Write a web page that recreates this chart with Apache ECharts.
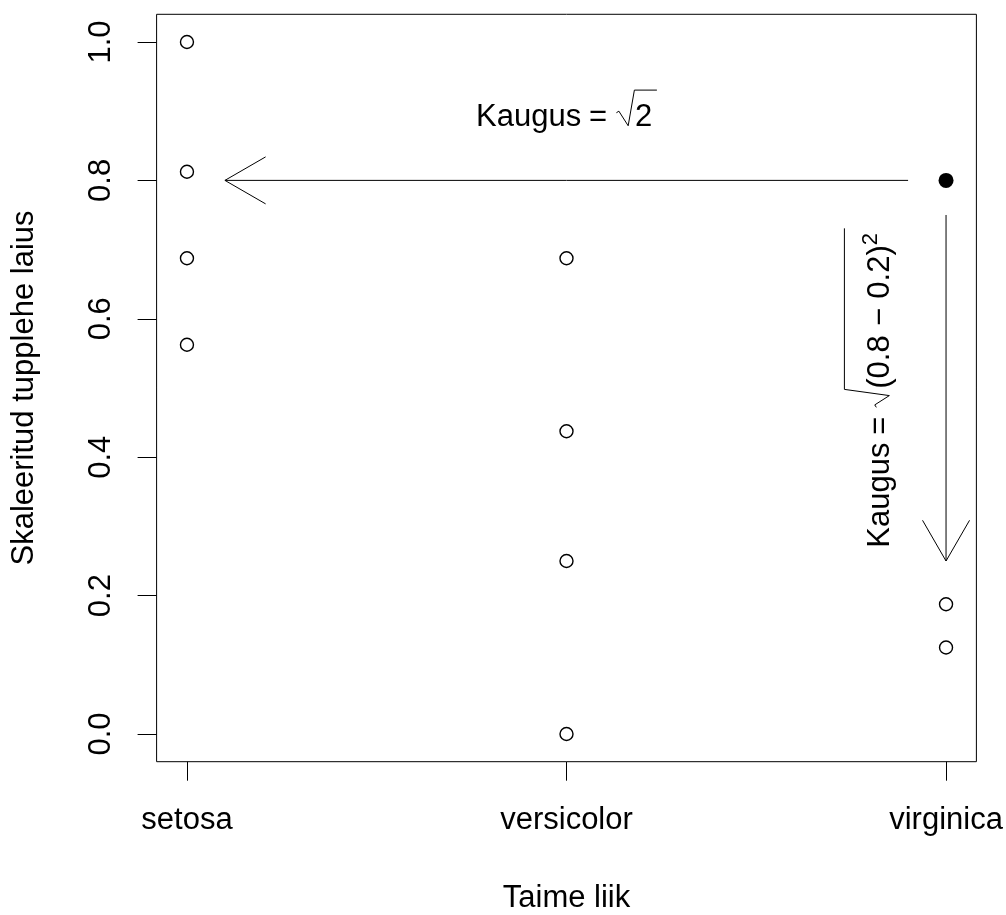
<!DOCTYPE html>
<html>
<head>
<meta charset="utf-8">
<script src="https://cdn.jsdelivr.net/npm/echarts@6/dist/echarts.min.js"></script>
<style>
html, body { margin: 0; padding: 0; background: #fff; }
#chart { width: 1006px; height: 915px; }
</style>
</head>
<body>
<div id="chart"></div>
<script>
// Scaled sepal width per species
const categories = ['setosa', 'versicolor', 'virginica'];
const setosaWidth = [1.0, 0.8125, 0.6875, 0.5625];
const versicolorWidth = [0.6875, 0.4375, 0.25, 0.0];
const virginicaWidth = [0.1875, 0.125];
// the new plant being classified
const newPlant = [3, 0.8];
const yTicks = [0, 0.2, 0.4, 0.6, 0.8, 1.0];
const xTicks = [1, 2, 3];
// distance arrows: [fromX, fromY, toX, toY]
const arrows = [[2.9, 0.8, 1.1, 0.8], [3, 0.75, 3, 0.25]];
// formula labels: [x, y, rotation in degrees]
const formulaAnchors = [[2, 0.9, 0], [2.8, 0.5, 90]];

const FONT = '"Liberation Sans", Arial, sans-serif';
const AXIS_FS = 31;
const NOTE_FS = 31;

const measureCtx = document.createElement('canvas').getContext('2d');
function fontOf(size) { return size + 'px ' + FONT; }
function textWidth(s, size) {
  measureCtx.font = fontOf(size);
  return measureCtx.measureText(s).width;
}
// distance from the 'middle' baseline down to the alphabetic baseline
function baselineOffset(size) {
  measureCtx.font = fontOf(size);
  measureCtx.textBaseline = 'middle';
  const m = measureCtx.measureText('x');
  measureCtx.textBaseline = 'alphabetic';
  return m.actualBoundingBoxDescent;
}

// Lay out "Kaugus = sqrt(...)" along a baseline at y = 0
function buildFormula(idx, fs) {
  const els = [];
  let u = 0;
  const put = (s, size, raise) => {
    els.push({
      type: 'text', x: u, y: -raise - baselineOffset(size),
      style: { text: s, font: fontOf(size), fill: '#000', align: 'left', verticalAlign: 'middle',
               textAlign: 'left', textVerticalAlign: 'middle' }
    });
    u += textWidth(s, size);
  };
  const gap = k => { u += k * fs; };

  put('Kaugus', fs, 0); gap(0.25); put('=', fs, 0); gap(0.3);
  const u0 = u;
  const h = idx === 0 ? 1.15 * fs : 1.45 * fs;
  const bodyStart = u0 + 0.6 * fs;
  u = bodyStart;
  if (idx === 0) {
    put('2', fs, 0);
  } else {
    put('(0.8', fs, 0); gap(0.3); put('\u2212', fs, 0); gap(0.3); put('0.2)', fs, 0);
    put('2', Math.round(fs * 0.7), 0.4 * fs);
  }
  u += 0.15 * fs;
  els.push({
    type: 'polyline',
    shape: { points: [[u0, -0.42 * fs], [u0 + 0.08 * fs, -0.47 * fs], [u0 + 0.38 * fs, 0],
                      [bodyStart - 0.02 * fs, -h], [u, -h]] },
    style: { stroke: '#000', lineWidth: 1, fill: null }
  });
  return { els, width: u, top: -h, bottom: 0.21 * fs };
}

function renderArrow(params, api) {
  const a = api.coord([api.value(0), api.value(1)]);
  const b = api.coord([api.value(2), api.value(3)]);
  const ang = Math.atan2(b[1] - a[1], b[0] - a[0]);
  const L = 47, th = Math.PI / 6;
  const h1 = [b[0] - L * Math.cos(ang - th), b[1] - L * Math.sin(ang - th)];
  const h2 = [b[0] - L * Math.cos(ang + th), b[1] - L * Math.sin(ang + th)];
  const style = { stroke: '#000', lineWidth: 1, fill: null };
  return {
    type: 'group',
    children: [
      { type: 'line', shape: { x1: a[0], y1: a[1], x2: b[0], y2: b[1] }, style },
      { type: 'polyline', shape: { points: [h1, b, h2] }, style }
    ]
  };
}

function renderFormula(params, api) {
  const p = api.coord([api.value(0), api.value(1)]);
  const rot = api.value(2) * Math.PI / 180;
  const f = buildFormula(params.dataIndex, NOTE_FS);
  return {
    type: 'group', x: p[0], y: p[1], rotation: rot,
    children: [{
      type: 'group', x: -f.width / 2, y: -(f.top + f.bottom) / 2,
      children: f.els
    }]
  };
}

const points = [];
[setosaWidth, versicolorWidth, virginicaWidth].forEach((arr, i) => {
  arr.forEach(v => points.push([xTicks[i], v]));
});

const textBase = { color: '#000', fontFamily: FONT, fontSize: AXIS_FS };

const chart = echarts.init(document.getElementById('chart'), null, { renderer: 'canvas' });
chart.setOption({
  animation: false,
  backgroundColor: '#fff',
  grid: {
    left: 156.6, right: 29.6, top: 14.3, bottom: 153.3,
    show: true, borderColor: '#000', borderWidth: 1, backgroundColor: 'transparent',
    containLabel: false, outerBoundsMode: 'none'
  },
  xAxis: {
    type: 'value', min: 0.92, max: 3.08,
    axisLine: { show: false, onZero: false },
    splitLine: { show: false },
    axisTick: { show: true, length: 19, customValues: xTicks, lineStyle: { color: '#000', width: 1 } },
    axisLabel: Object.assign({ customValues: xTicks, margin: 43,
      formatter: v => categories[Math.round(v) - 1] }, textBase),
    name: 'Taime liik', nameLocation: 'middle', nameGap: 121,
    nameTextStyle: Object.assign({}, textBase)
  },
  yAxis: {
    type: 'value', min: -0.04, max: 1.04,
    axisLine: { show: false, onZero: false },
    splitLine: { show: false },
    axisTick: { show: true, length: 19, customValues: yTicks, lineStyle: { color: '#000', width: 1 } },
    axisLabel: Object.assign({ customValues: yTicks, margin: 40, rotate: 90,
      formatter: v => Number(v).toFixed(1) }, textBase),
    name: 'Skaleeritud tupplehe laius', nameLocation: 'middle', nameGap: 117,
    nameTextStyle: Object.assign({}, textBase)
  },
  series: [
    {
      type: 'scatter', data: points, symbol: 'circle', symbolSize: 13, silent: true,
      itemStyle: { color: '#fff', borderColor: '#000', borderWidth: 1.4, opacity: 1 }
    },
    {
      type: 'scatter', data: [newPlant], symbol: 'circle', symbolSize: 15, silent: true,
      itemStyle: { color: '#000', opacity: 1 }
    },
    {
      type: 'custom', data: arrows, renderItem: renderArrow, silent: true,
      encode: { x: [0, 2], y: [1, 3] }
    },
    {
      type: 'custom', data: formulaAnchors, renderItem: renderFormula, silent: true,
      encode: { x: 0, y: 1 }
    }
  ]
});
</script>
</body>
</html>
